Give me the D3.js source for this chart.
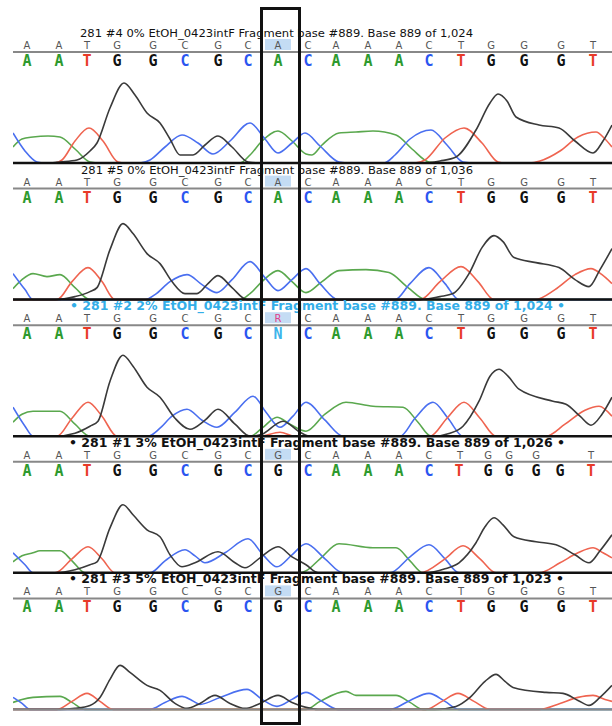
<!DOCTYPE html>
<html><head><meta charset="utf-8">
<script src="https://cdn.jsdelivr.net/npm/d3@7"></script>
<style>html,body{margin:0;padding:0;background:#fff;}svg{display:block;}</style>
</head><body>
<svg id="chart" width="612" height="726"></svg>
<script>
// ---------- DATA ----------
const panelTitles = [
  "281 #4 0% EtOH_0423intF Fragment base #889. Base 889 of 1,024",
  "281 #5 0% EtOH_0423intF Fragment base #889. Base 889 of 1,036",
  "\u2022 281 #2 2% EtOH_0423intF Fragment base #889. Base 889 of 1,024 \u2022",
  "\u2022 281 #1 3% EtOH_0423intF Fragment base #889. Base 889 of 1,026 \u2022",
  "\u2022 281 #3 5% EtOH_0423intF Fragment base #889. Base 889 of 1,023 \u2022"
];
// base-call scan positions
const stdPos = [27,59,87,117,153,185,218,248,278,308,336,368,399,429,461,491,524,561,593];
const p4SmallPos = [27,59,87,117,153,185,218,248,278,308,336,368,399,429,460,488,509,536,591];
const p4BigPos = [27,59,87,117,153,185,218,248,278,308,336,368,399,429,459,488,509,536,560,591];
const smallCalls = ["AATGGCGCACAAACTGGGT","AATGGCGCACAAACTGGGT","AATGGCGCRCAAACTGGGT","AATGGCGCGCAAACTGGGT","AATGGCGCGCAAACTGGGT"];
const bigCalls   = ["AATGGCGCACAAACTGGGT","AATGGCGCACAAACTGGGT","AATGGCGCNCAAACTGGGT","AATGGCGCGCAAACTGGGGT","AATGGCGCGCAAACTGGGT"];
const smallPos = [stdPos, stdPos, stdPos, p4SmallPos, stdPos];
const bigPos = [stdPos, stdPos, stdPos, p4BigPos, stdPos];
const focusIndex = 8;

// trace samples: [scan, signal]
const traceA = [
  [[13,16],[22,24],[33,26],[48,27],[60,26],[75,14],[90,1],[100,0],[240,0],[250,8],[262,22],[278,32],[292,22],[306,9],[312,8],[322,18],[339,30],[356,31],[373,32],[396,28],[412,14],[429,1],[440,0],[612,0]],
  [[13,11],[22,20],[33,26],[47,23],[60,25],[75,12],[90,0],[240,0],[250,6],[262,18],[278,29],[292,18],[306,7],[322,18],[339,29],[366,30],[389,27],[408,12],[426,0],[612,0]],
  [[13,14],[22,22],[33,25],[60,25],[75,12],[90,0],[250,0],[262,8],[277,19],[290,12],[306,5],[325,22],[346,34],[373,30],[403,29],[418,14],[431,0],[612,0]],
  [[13,11],[22,17],[33,20],[40,22],[60,22],[72,12],[85,0],[300,0],[306,2],[320,14],[339,29],[373,25],[396,25],[410,12],[423,0],[612,0]],
  [[13,7],[22,10],[33,12],[60,13],[72,7],[85,0],[306,0],[320,8],[346,18],[356,14],[396,14],[410,7],[423,0],[612,0]]
];
const traceC = [
  [[13,30],[25,12],[37,1],[45,0],[140,0],[150,3],[165,16],[182,28],[198,20],[213,9],[230,22],[250,40],[265,24],[278,10],[292,20],[305,30],[320,17],[339,1],[350,0],[384,0],[395,8],[410,24],[431,33],[447,18],[463,1],[475,0],[612,0]],
  [[13,26],[25,10],[33,0],[145,0],[155,5],[170,18],[187,25],[202,15],[217,7],[232,20],[250,38],[265,22],[278,9],[292,20],[306,31],[320,16],[338,0],[395,0],[410,16],[429,32],[445,16],[459,0],[612,0]],
  [[13,29],[25,10],[33,0],[148,0],[160,8],[172,20],[187,27],[202,16],[217,9],[235,24],[253,40],[266,24],[280,9],[293,20],[306,34],[325,16],[343,0],[400,0],[415,18],[433,34],[448,18],[463,0],[612,0]],
  [[13,20],[25,8],[33,0],[150,0],[165,12],[185,23],[195,17],[205,10],[225,20],[248,34],[263,18],[277,6],[292,18],[306,29],[325,14],[343,0],[390,0],[410,16],[429,28],[445,14],[459,0],[612,0]],
  [[13,12],[22,6],[30,0],[150,0],[165,7],[182,13],[192,9],[200,5],[220,12],[247,20],[262,10],[277,3],[292,10],[306,17],[322,8],[338,0],[390,0],[410,9],[429,16],[445,8],[459,0],[612,0]]
];
const traceG = [
  [[13,0],[50,0],[60,1],[77,3],[90,12],[97,20],[110,55],[124,80],[135,68],[147,50],[160,40],[170,24],[180,8],[193,8],[205,18],[218,27],[232,16],[248,1],[260,0],[425,0],[440,2],[456,6],[476,33],[490,60],[498,69],[507,62],[516,46],[539,38],[559,35],[575,22],[593,10],[603,22],[612,38]],
  [[13,0],[55,0],[75,3],[90,8],[97,12],[110,50],[123,76],[133,66],[147,46],[160,36],[172,18],[185,6],[197,6],[208,16],[218,24],[232,12],[247,0],[420,0],[440,3],[453,6],[469,26],[482,52],[494,64],[503,58],[514,42],[536,37],[559,32],[575,20],[589,13],[600,30],[612,51]],
  [[13,0],[55,0],[75,3],[90,10],[98,15],[110,55],[123,81],[133,70],[147,49],[160,39],[175,18],[190,7],[205,16],[218,27],[235,12],[250,0],[262,2],[283,15],[300,4],[310,0],[433,0],[450,3],[463,10],[479,35],[490,60],[499,67],[508,60],[519,47],[553,35],[566,32],[580,20],[591,11],[602,22],[612,39]],
  [[13,0],[55,0],[75,3],[90,8],[97,11],[110,45],[123,68],[133,58],[147,43],[160,36],[170,18],[182,6],[195,10],[218,21],[235,10],[245,5],[260,15],[278,26],[292,16],[306,8],[318,0],[425,0],[445,4],[459,10],[476,30],[485,46],[494,55],[503,48],[514,36],[536,31],[556,28],[575,18],[589,10],[600,22],[612,38]],
  [[13,0],[60,0],[75,1],[90,4],[100,12],[110,30],[120,44],[130,37],[147,24],[160,19],[175,6],[187,1],[200,6],[215,14],[230,6],[245,1],[260,6],[278,14],[292,7],[306,2],[318,0],[435,0],[456,3],[470,12],[485,28],[496,35],[505,28],[513,22],[546,17],[563,16],[578,9],[589,4],[600,12],[612,24]]
];
const traceT = [
  [[13,0],[55,0],[62,3],[75,22],[89,35],[103,22],[118,1],[125,0],[415,0],[425,3],[445,25],[464,35],[482,20],[498,1],[505,0],[530,0],[540,2],[560,12],[578,26],[596,31],[605,24],[612,16]],
  [[13,0],[57,0],[72,18],[88,32],[102,18],[115,0],[420,0],[440,18],[461,33],[478,18],[494,0],[535,0],[555,10],[575,25],[591,31],[602,25],[612,16]],
  [[13,0],[57,0],[72,18],[88,34],[102,20],[117,0],[260,0],[280,4],[295,0],[430,0],[447,18],[464,34],[480,18],[496,0],[546,0],[565,12],[585,26],[599,30],[612,20]],
  [[13,0],[55,0],[72,14],[88,26],[102,14],[115,0],[420,0],[445,14],[463,27],[480,14],[496,0],[539,0],[560,10],[578,20],[593,25],[603,20],[612,15]],
  [[13,0],[57,0],[72,8],[87,16],[100,8],[113,0],[426,0],[442,8],[458,16],[474,8],[490,0],[539,0],[560,6],[578,12],[593,14],[605,10],[612,8]]
];

// ---------- STYLE / LAYOUT ----------
const traceColor = {A:"#5aa84e", C:"#4a6ff0", G:"#3a3a3a", T:"#ef6450"};
const callColor = {A:"#2e9a2e", C:"#2a55f0", G:"#111111", T:"#e83a28", N:"#3db4ea", R:"#e0408a"};
const svg = d3.select("#chart");
const x = d3.scaleLinear().domain([0, 612]).range([0, 612]);
const panelStep = 136.6;
const titleStyles = [
  {x0:80, len:393, bold:false, color:"#111", size:10.5},
  {x0:81, len:392, bold:false, color:"#111", size:10.5},
  {x0:70, len:495, bold:true, color:"#33aee8", size:11.5},
  {x0:69, len:496, bold:true, color:"#111", size:11.5},
  {x0:69, len:495, bold:true, color:"#111", size:11.5}
];

svg.append("defs").append("clipPath").attr("id","clipTr")
  .append("rect").attr("x",13).attr("y",0).attr("width",599).attr("height",726);

panelTitles.forEach((title, i) => {
  const off = i * panelStep;
  const lineY = 52 + off;
  const baseY = 163 + off;
  const last = i === panelTitles.length - 1;
  const y = d3.scaleLinear().domain([0, 100]).range([baseY, baseY - 100]);
  const g = svg.append("g");

  // traces
  const line = d3.line().x(d => x(d[0])).y(d => y(d[1])).curve(d3.curveMonotoneX);
  const tg = g.append("g").attr("clip-path","url(#clipTr)");
  [["A",traceA[i]],["C",traceC[i]],["T",traceT[i]],["G",traceG[i]]].forEach(([b, pts]) => {
    tg.append("path").attr("d", line(pts)).attr("fill","none")
      .attr("stroke", traceColor[b]).attr("stroke-width",1.6).attr("stroke-linejoin","round");
  });

  // baseline
  g.append("line").attr("x1",13).attr("x2",612).attr("y1",baseY).attr("y2",baseY)
    .attr("stroke", last ? "#888" : "#111").attr("stroke-width", last ? 2 : 2.5);
  // top line
  g.append("line").attr("x1",13).attr("x2",612).attr("y1",lineY).attr("y2",lineY)
    .attr("stroke","#888").attr("stroke-width",2);

  // highlight behind focus call
  const fx = x(smallPos[i][focusIndex]);
  g.append("rect").attr("x", fx - 13).attr("y", lineY - 13).attr("width", 26).attr("height", 11)
    .attr("fill","#c4dcf4");

  // title
  const ts = titleStyles[i];
  g.append("text").attr("x", ts.x0).attr("y", 37 + off)
    .attr("font-family","DejaVu Sans, sans-serif").attr("font-size", ts.size)
    .attr("font-weight", ts.bold ? "bold" : "normal").attr("fill", ts.color)
    .attr("textLength", ts.len).attr("lengthAdjust","spacingAndGlyphs")
    .text(title);

  // small calls
  smallCalls[i].split("").forEach((c, k) => {
    g.append("text").attr("x", x(smallPos[i][k])).attr("y", lineY - 3)
      .attr("text-anchor","middle").attr("font-family","DejaVu Sans, sans-serif")
      .attr("font-size",10).attr("fill", c === "R" ? callColor.R : "#555").text(c);
  });
  // big calls
  bigCalls[i].split("").forEach((c, k) => {
    g.append("text").attr("x", x(bigPos[i][k])).attr("y", lineY + 14)
      .attr("text-anchor","middle").attr("font-family","DejaVu Sans Mono, monospace")
      .attr("font-weight","bold").attr("font-size",15).attr("fill", callColor[c]).text(c);
  });
});

// focus box
svg.append("rect").attr("x",261.5).attr("y",8.5).attr("width",38).attr("height",715)
  .attr("fill","none").attr("stroke","#111").attr("stroke-width",3);
</script>
</body></html>
